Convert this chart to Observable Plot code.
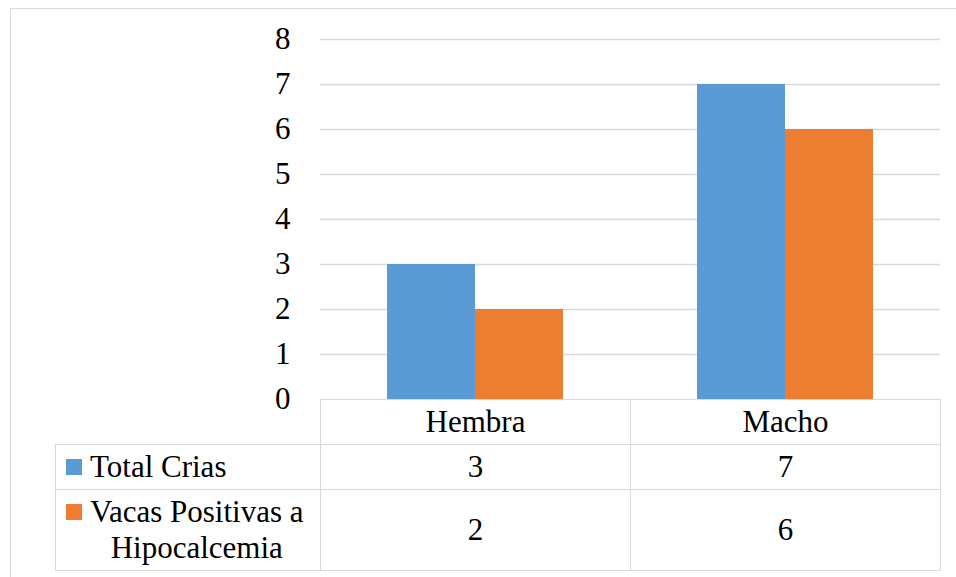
<!DOCTYPE html>
<html>
<head>
<meta charset="utf-8">
<script src="https://cdn.jsdelivr.net/npm/d3@7"></script>
<script src="https://cdn.jsdelivr.net/npm/@observablehq/plot@0.6"></script>
<style>
  html, body { margin: 0; padding: 0; background: #fff; }
  #wrap { position: relative; width: 956px; height: 577px; overflow: hidden;
          font-family: "Liberation Serif", "DejaVu Serif", Times, serif; color: #000; }
  #frame { position: absolute; left: 10px; top: 8px; width: 1000px; height: 700px;
           border: 1.5px solid #d9d9d9; box-sizing: border-box; }
  #chart { position: absolute; left: 0; top: 0; }
  #chart svg, #chart svg text { font-family: "Liberation Serif", "DejaVu Serif", Times, serif !important; }
  #tbl { position: absolute; left: 55px; top: 399px; border-collapse: collapse;
         table-layout: fixed; font-size: 31px; line-height: 36px;
         font-family: "Liberation Serif", "DejaVu Serif", Times, serif; }
  #tbl td { border: 1.5px solid #d9d9d9; text-align: center; vertical-align: middle; padding: 0; }
  #tbl td.blank { border-top: none; border-left: none; }
  .leg { display: flex; align-items: flex-start; padding-left: 10px; }
  .sw { width: 16px; height: 16px; flex: 0 0 16px; margin-right: 8px; margin-top: 10px; }
  .lt { text-align: center; white-space: nowrap; }
</style>
</head>
<body>
<div id="wrap">
  <div id="frame"></div>
  <div id="chart"></div>
  <table id="tbl"></table>
</div>
<script>
const categories = ["Hembra", "Macho"];
const series = ["Total Crias", "Vacas Positivas a Hipocalcemia"];
const seriesLines = [["Total Crias"], ["Vacas Positivas a", "Hipocalcemia"]];
const totalCrias = [3, 7];
const vacasPositivas = [2, 6];
const colors = ["#5B9BD5", "#ED7D31"];
const yTicks = [0, 1, 2, 3, 4, 5, 6, 7, 8];

const values = [totalCrias, vacasPositivas];
const data = categories.flatMap((c, i) =>
  series.map((s, j) => ({cat: c, serie: s, value: values[j][i]})));

const chart = Plot.plot({
  width: 956,
  height: 400,
  marginTop: 39,
  marginBottom: 1,
  marginLeft: 320,
  marginRight: 16,
  style: {fontFamily: "Liberation Serif, DejaVu Serif, Times, serif", fontSize: "31px", color: "#000", background: "transparent", overflow: "visible"},
  fx: {domain: categories, axis: null, padding: 0},
  x: {domain: series, axis: null, paddingInner: 0, paddingOuter: 0.75},
  y: {domain: [0, 8], ticks: yTicks, tickSize: 0, tickPadding: 30, label: null, tickFormat: d => String(d)},
  color: {domain: series, range: colors},
  marks: [
    Plot.ruleY(yTicks.filter(d => d > 0), {stroke: "#d9d9d9", strokeWidth: 1.5}),
    Plot.barY(data, {fx: "cat", x: "serie", y: "value", fill: "serie"})
  ]
});
document.getElementById("chart").appendChild(chart);

// data table
const tbl = document.getElementById("tbl");
const cg = document.createElement("colgroup");
[265, 310, 310].forEach(w => { const c = document.createElement("col"); c.style.width = w + "px"; cg.appendChild(c); });
tbl.appendChild(cg);
const head = document.createElement("tr");
head.style.height = "45px";
const blank = document.createElement("td"); blank.className = "blank"; head.appendChild(blank);
categories.forEach(c => { const td = document.createElement("td"); td.textContent = c; head.appendChild(td); });
tbl.appendChild(head);
const rowHeights = [45, 81];
series.forEach((s, j) => {
  const tr = document.createElement("tr");
  tr.style.height = rowHeights[j] + "px";
  const lab = document.createElement("td");
  const leg = document.createElement("div"); leg.className = "leg";
  const sw = document.createElement("div"); sw.className = "sw"; sw.style.background = colors[j];
  const lt = document.createElement("div"); lt.className = "lt";
  lt.innerHTML = seriesLines[j].join("<br>");
  leg.appendChild(sw); leg.appendChild(lt); lab.appendChild(leg);
  tr.appendChild(lab);
  categories.forEach((c, i) => { const td = document.createElement("td"); td.textContent = values[j][i]; tr.appendChild(td); });
  tbl.appendChild(tr);
});
</script>
</body>
</html>
